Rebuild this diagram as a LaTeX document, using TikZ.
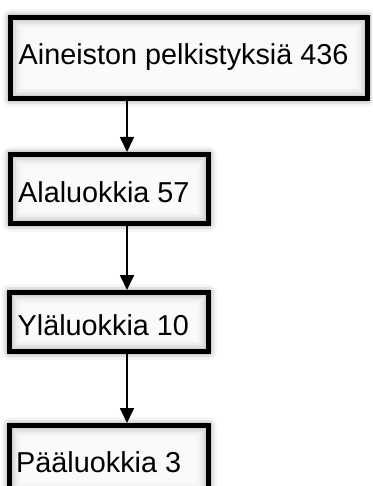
\documentclass[tikz,border=0pt]{standalone}
\usepackage{fontspec}
\setmainfont{Liberation Sans}
\usetikzlibrary{arrows.meta,shadows.blur}
\tikzset{
  stepbox/.style={rectangle, draw=black, line width=5pt, fill=black!26, inner sep=0pt,
    blur shadow={shadow xshift=0pt, shadow yshift=0pt, shadow blur radius=8pt,
                 shadow opacity=60, shadow blur extra rounding=0pt}},
  boxtext/.style={anchor=base west, inner sep=0pt, font=\fontsize{28.8}{30}\selectfont},
  link/.style={line width=1.8pt, -{Triangle[width=14pt,length=15pt]}},
}
% soft inner glow: white layers stacked inward from the border
\newcommand\innerglow[1]{%
  \foreach \i in {0,...,7}{%
    \fill[white, opacity=0.3]
      ([shift={({5pt+\i*1.4pt},{-5pt-\i*1.4pt})}]#1.north west) rectangle
      ([shift={({-5pt-\i*1.4pt},{5pt+\i*1.4pt})}]#1.south east);
  }%
}
\begin{document}
\begin{tikzpicture}[x=1pt, y=-1pt]
\useasboundingbox (0,0) rectangle (372,486);
\clip (0,0) rectangle (372,486);

% boxes
\node[stepbox, minimum width=357pt, minimum height=81pt] (b1) at (189,58) {};
\node[stepbox, minimum width=198pt, minimum height=69pt] (b2) at (109.5,189) {};
\node[stepbox, minimum width=199pt, minimum height=59pt] (b3) at (109,322) {};
\node[stepbox, minimum width=199pt, minimum height=69pt] (b4) at (109,460) {};
\innerglow{b1}
\innerglow{b2}
\innerglow{b3}
\innerglow{b4}

% labels
\node[boxtext] (t1) at (18.5,65) {Aineiston pelkistyksiä 436};
\node[boxtext] (t2) at (18,202) {Alaluokkia 57};
\node[boxtext] (t3) at (17.5,335) {Yläluokkia 10};
\node[boxtext] (t4) at (16,472) {Pääluokkia 3};

% connectors
\coordinate (ax) at (127,0);
\draw[link] (b1.south -| ax) -- (b2.north -| ax);
\draw[link] (b2.south -| ax) -- (b3.north -| ax);
\draw[link] (b3.south -| ax) -- (b4.north -| ax);
\end{tikzpicture}
\end{document}
